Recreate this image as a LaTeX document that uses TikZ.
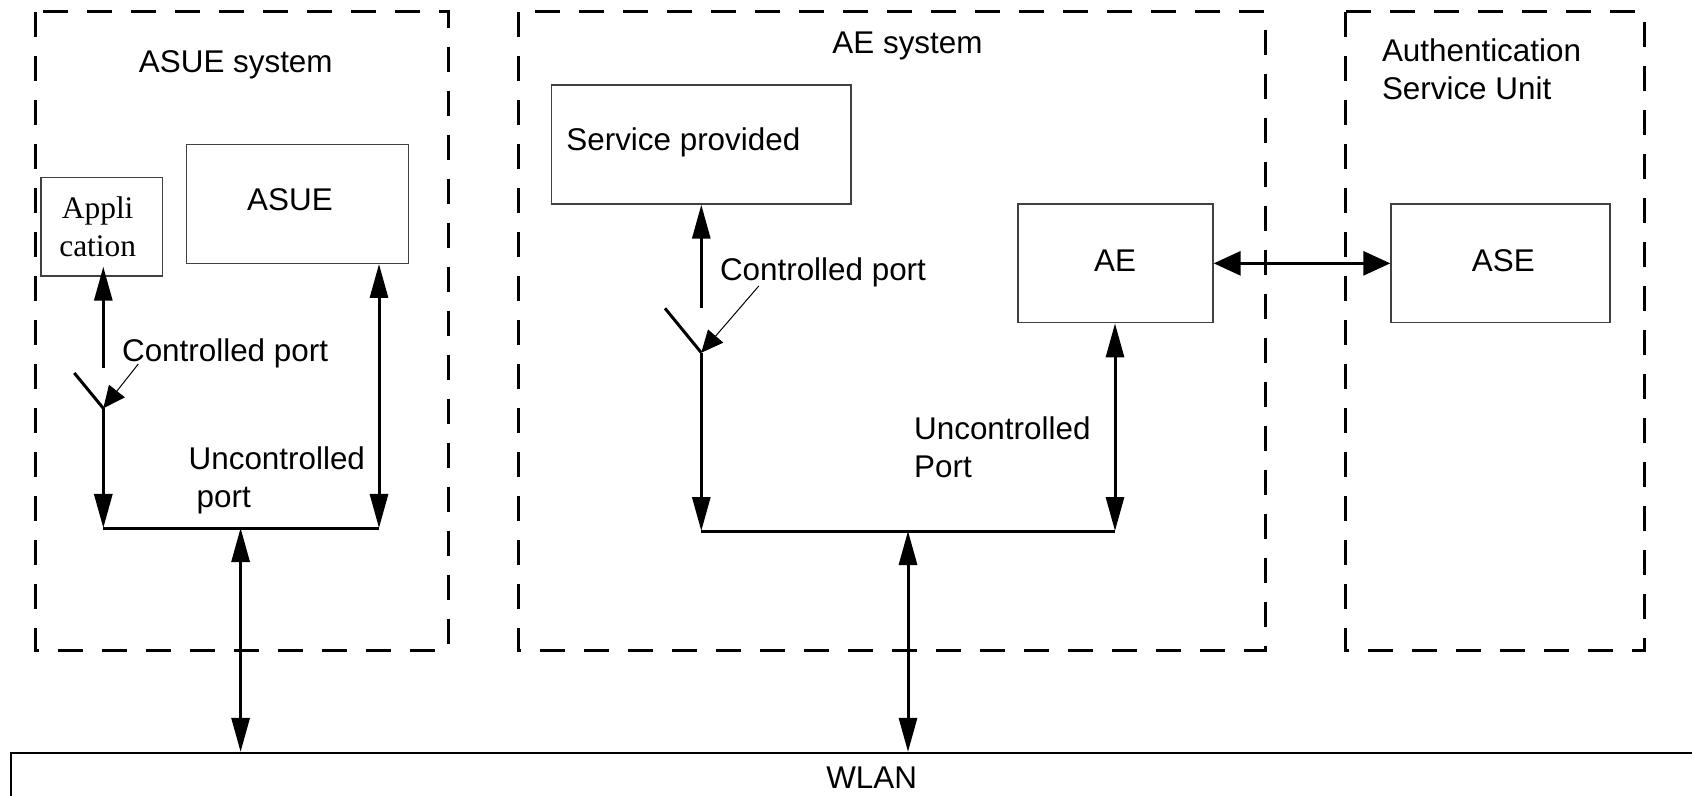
\documentclass[tikz,border=0pt]{standalone}
\usepackage{fontspec}
\setmainfont{Liberation Sans}
\newfontfamily\appfont{Liberation Serif}
\usetikzlibrary{arrows.meta,fit}
\begin{document}
\begin{tikzpicture}[x=0.5pt,y=-0.5pt,
  every node/.style={font=\fontsize{15.7pt}{18.85pt}\selectfont, inner sep=0pt},
  group/.style={line width=1.5pt, dash pattern=on 12.5pt off 9.5pt},
  unit/.style={draw=black!75, line width=0.7pt, inner sep=0pt},
  link/.style={line width=1.5pt},
  dbl/.style={link, {Triangle[length=17pt,width=9pt]}-{Triangle[length=17pt,width=9pt]}},
  one/.style={link, -{Triangle[length=17pt,width=9pt]}},
  side/.style={link, {Triangle[length=13.5pt,width=12pt]}-{Triangle[length=13.5pt,width=12pt]}},
  lead/.style={line width=0.5pt, -{Triangle[length=11pt,width=10pt]}},
]
\useasboundingbox (0,0) rectangle (1692,796);

% system boundaries
\draw[group] (35.6,12) rectangle (448,650);
\draw[group] (518,12) rectangle (1265,650);
\draw[group] (1345.6,12) rectangle (1644.4,650);

\node[anchor=base] (tasue) at (235.8,72.7) {ASUE system};
\node[anchor=base] (tae) at (907.5,53.3) {AE system};
\node[anchor=north west, align=left] (tasu) at (1381.6,38.4) {Authentication\\Service Unit};

% functional units
\node[unit, fit={(41,177.3)(162.7,276)}] (app) {};
\node[font=\appfont\fontsize{15.7pt}{18.85pt}\selectfont, align=center] (tapp) at (97.7,227.1) {Appli\\cation};
\node[unit, fit={(186.7,144.7)(408.7,263.3)}] (asue) {};
\node[anchor=base] (tasuebox) at (290,210.7) {ASUE};
\node[unit, fit={(551.7,85)(851,204)}] (svc) {};
\node[anchor=base west] (tsvc) at (566,150.7) {Service provided};
\node[unit, fit={(1017.8,204)(1213,322.7)}] (ae) {};
\node[anchor=base] (taebox) at (1115,271.7) {AE};
\node[unit, fit={(1391,204)(1610,322.7)}] (ase) {};
\node[anchor=base] (tase) at (1503.3,271.7) {ASE};
\node[draw, line width=1.1pt, inner sep=0pt, fit={(10.8,753)(1730,850)}] (wlan) {};
\node[anchor=base] (twlan) at (871.6,788.3) {WLAN};

% port labels
\node[anchor=base west] (cp1) at (121.7,361.7) {Controlled port};
\node[anchor=north west, align=left] (up1) at (188.3,446.4) {Uncontrolled\\\hspace*{4pt}port};
\node[anchor=base west] (cp2) at (719.6,280.7) {Controlled port};
\node[anchor=north west, align=left] (up2) at (913.8,416.4) {Uncontrolled\\Port};

% ASUE side: switch, bus and links
\coordinate (sw1) at (103.3,408.3);
\coordinate (arm1) at (74.3,373);
\coordinate (gap1) at (103.3,367.7);
\coordinate (busL1) at (103.3,528);
\coordinate (busR1) at (379,528);
\coordinate (drop1) at (240.6,528);
\coordinate (lead1) at (138.3,364);

\draw[one, shorten >=-5pt] (gap1) -- (gap1 |- app.south);
\draw[link] (sw1) -- (arm1);
\draw[one] (sw1) -- (busL1);
\draw[link] (busL1) -- (busR1);
\draw[dbl] (busR1) -- (busR1 |- asue.south);
\draw[dbl] (drop1) -- (drop1 |- wlan.north);
\draw[lead] (lead1) -- (sw1);

% AE side: switch, bus and links
\coordinate (sw2) at (701.3,352.7);
\coordinate (arm2) at (665,308.3);
\coordinate (gap2) at (701.3,308.3);
\coordinate (busL2) at (701.3,531);
\coordinate (busR2) at (1115,531);
\coordinate (drop2) at (908,531);
\coordinate (lead2) at (758.8,286);

\draw[one] (gap2) -- (gap2 |- svc.south);
\draw[link] (sw2) -- (arm2);
\draw[one] (sw2) -- (busL2);
\draw[link] (busL2) -- (busR2);
\draw[dbl] (busR2) -- (busR2 |- ae.south);
\draw[dbl] (drop2) -- (drop2 |- wlan.north);
\draw[lead] (lead2) -- (sw2);

% AE to ASE
\draw[side] (ae.east) -- (ase.west);
\end{tikzpicture}
\end{document}
